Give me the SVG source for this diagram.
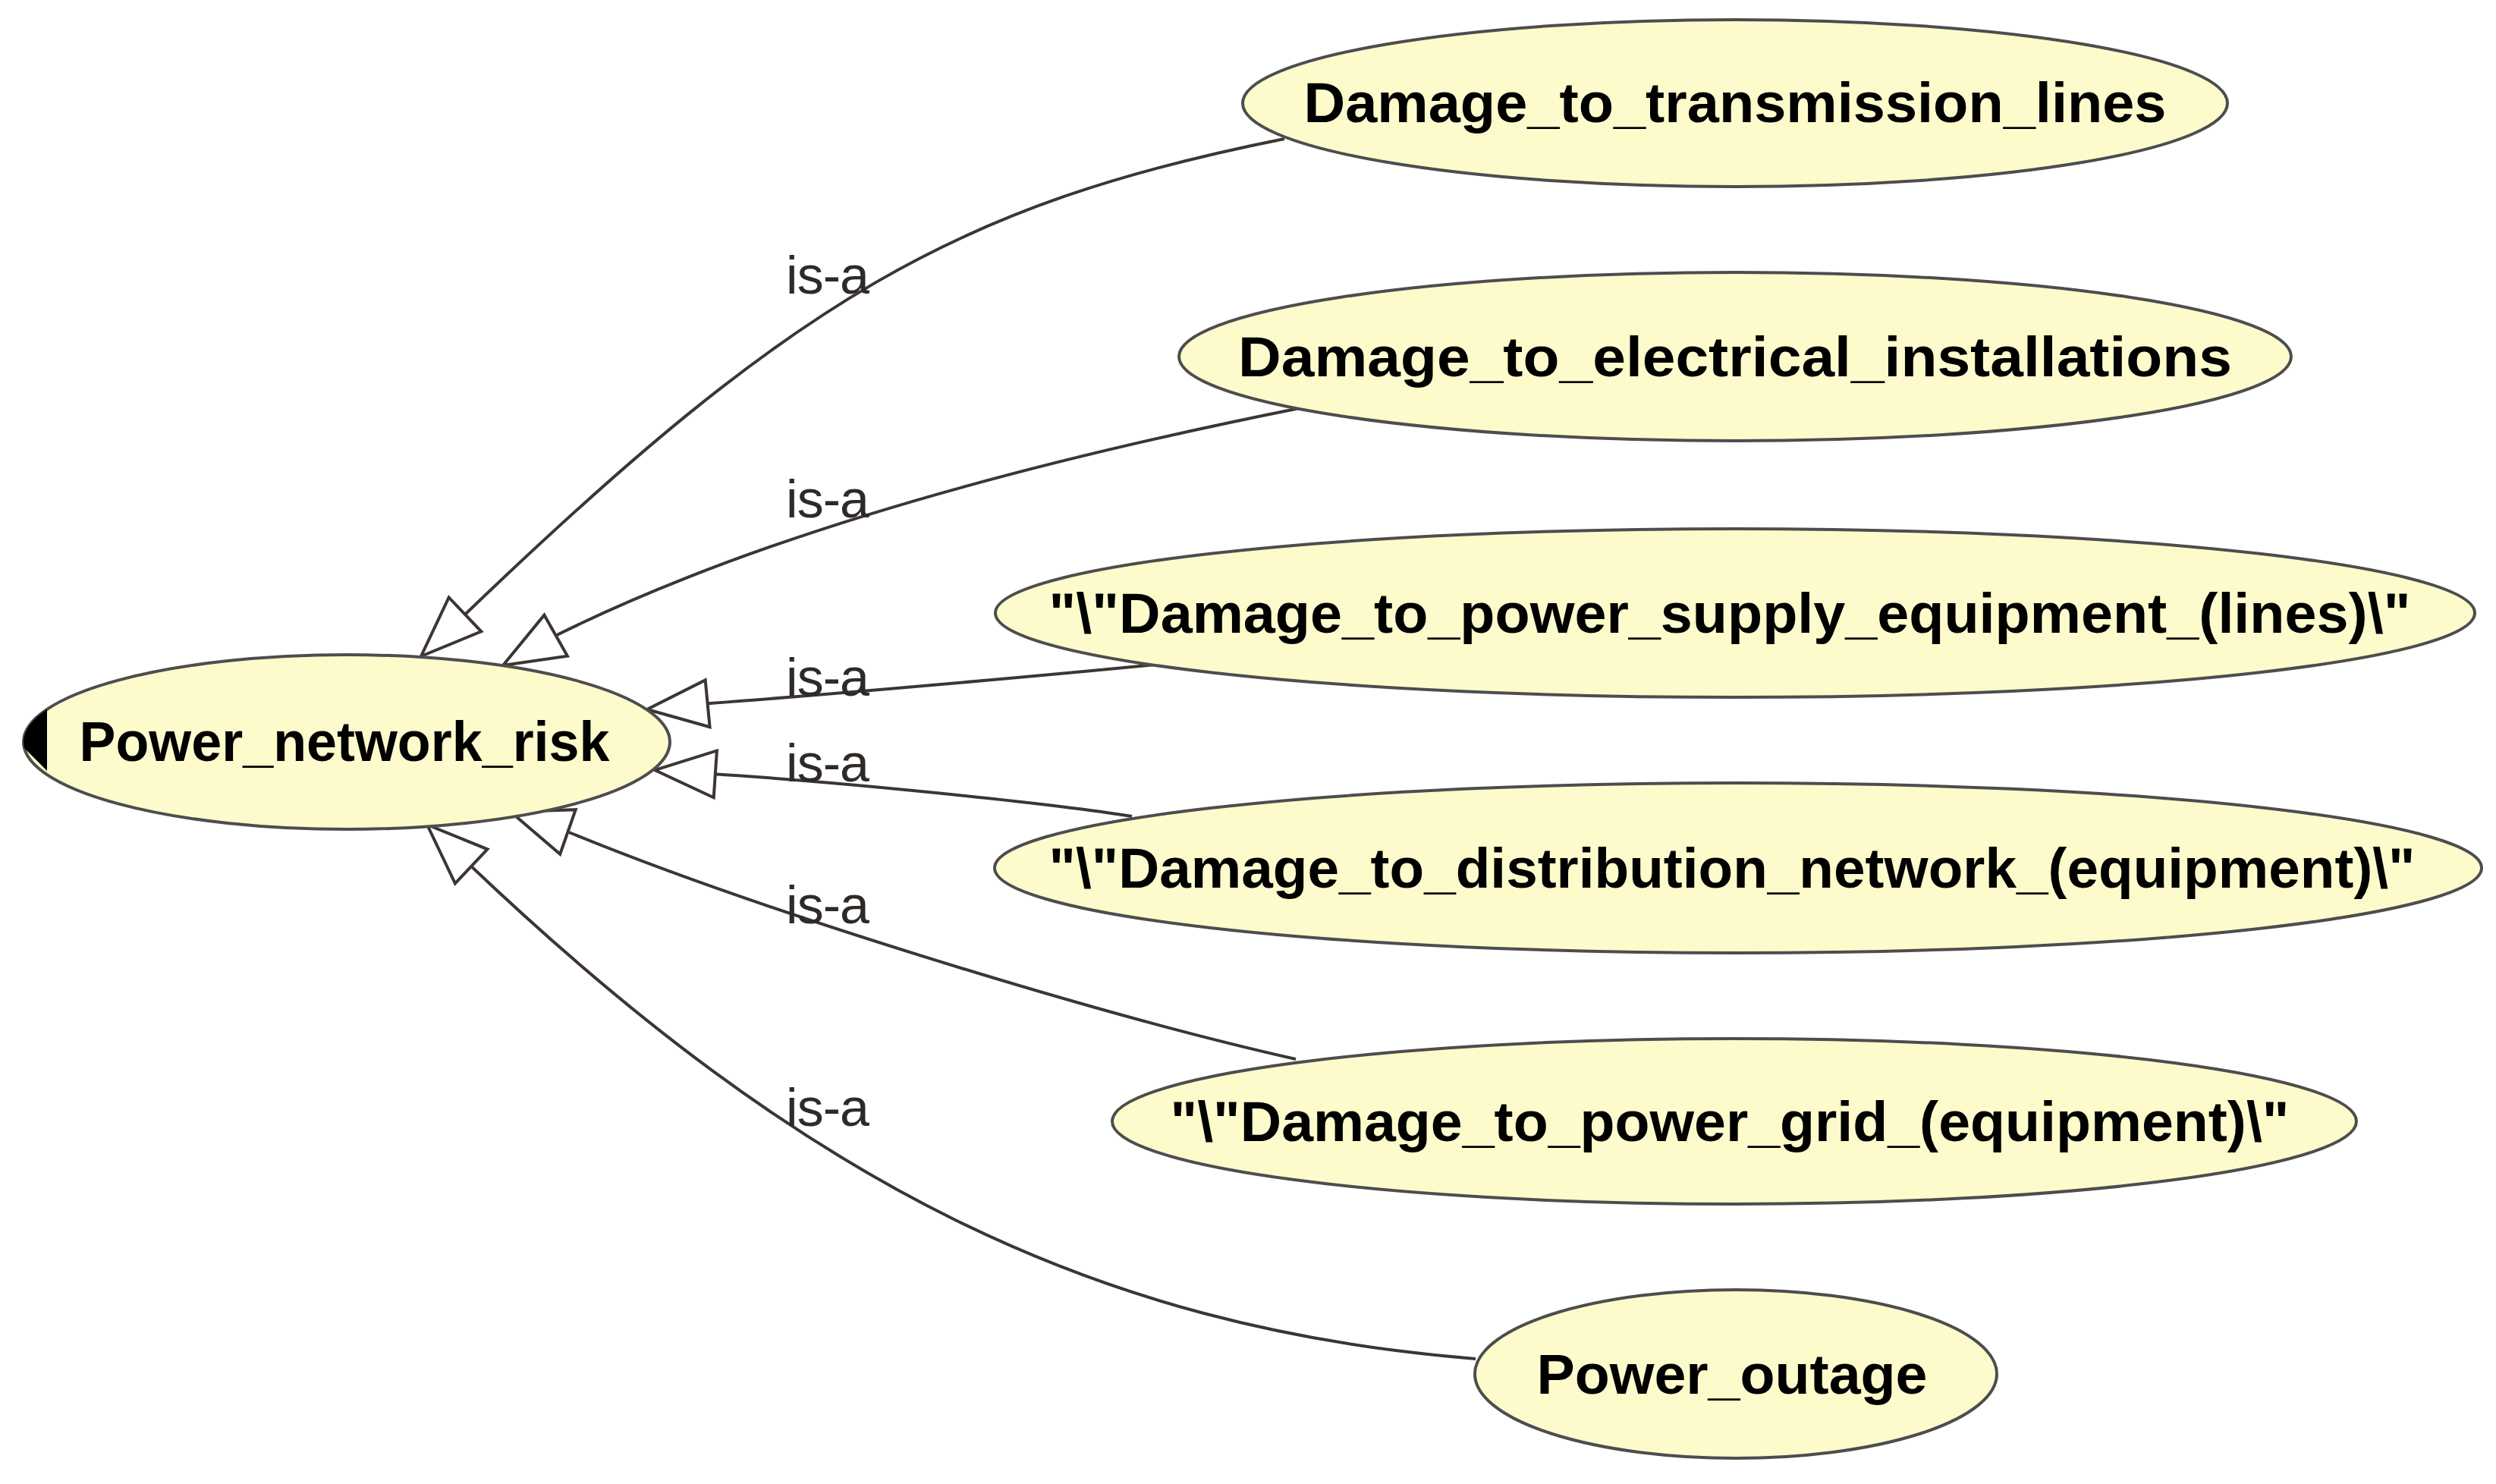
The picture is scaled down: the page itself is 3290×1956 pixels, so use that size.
<svg xmlns="http://www.w3.org/2000/svg" width="3290" height="1956" viewBox="0 0 3290 1956">
<style>
.node ellipse{fill:#fdfbcc;stroke:#4d4d4d;stroke-width:4}
.node text{font-family:"Liberation Sans",Arial,sans-serif;font-weight:bold;font-size:74px;fill:#000;text-anchor:middle}
.edge{fill:none;stroke:#3d3532;stroke-width:4;marker-end:url(#tri)}
.lbl{font-family:"Liberation Sans",Arial,sans-serif;font-size:70px;fill:#2e2a28}
</style>
<defs>
<marker id="tri" markerUnits="userSpaceOnUse" markerWidth="120" markerHeight="120" refX="0" refY="0" orient="auto" overflow="visible">
<path d="M0,0 L-80,-31 L-80,31 Z" fill="#fff" stroke="#3d3532" stroke-width="4" stroke-linejoin="miter"/>
</marker>
<clipPath id="rootclip"><ellipse cx="457" cy="978" rx="426" ry="115"/></clipPath>
</defs>
<rect width="3290" height="1956" fill="#fff"/>
<g id="connectors">
<path class="edge" d="M1693,183 C1262,269 1046,394 616,807 L555,865"/>
<path class="edge" d="M1718,537 C1291,622 963,723 732,838 L663,877"/>
<path class="edge" d="M1523,876 C1380,890 1100,915 936,927 L853,935"/>
<path class="edge" d="M1492,1076 C1380,1058 1100,1030 937,1020 L863,1015"/>
<path class="edge" d="M1708,1396 C1450,1338 1000,1200 750,1097 L673,1070"/>
<path class="edge" d="M1945,1791 C1440,1750 1060,1560 616,1137 L563,1087"/>
<text class="lbl" x="1036" y="387" textLength="110">is-a</text>
<text class="lbl" x="1036" y="682" textLength="110">is-a</text>
<text class="lbl" x="1036" y="917" textLength="110">is-a</text>
<text class="lbl" x="1036" y="1030" textLength="110">is-a</text>
<text class="lbl" x="1036" y="1217" textLength="110">is-a</text>
<text class="lbl" x="1036" y="1484" textLength="110">is-a</text>
</g>
<g id="Power_network_risk" class="node">
<ellipse cx="457" cy="978" rx="426" ry="115"/>
<polygon points="18,972 62,928 62,1016" fill="#000" clip-path="url(#rootclip)"/>
<text x="454" y="1003" textLength="699" lengthAdjust="spacingAndGlyphs">Power_network_risk</text>
</g>
<g id="Damage_to_transmission_lines" class="node">
<ellipse cx="2287" cy="136" rx="649" ry="110"/>
<text x="2287" y="161" textLength="1137" lengthAdjust="spacingAndGlyphs">Damage_to_transmission_lines</text>
</g>
<g id="Damage_to_electrical_installations" class="node">
<ellipse cx="2287" cy="470" rx="733" ry="111"/>
<text x="2287" y="496" textLength="1310" lengthAdjust="spacingAndGlyphs">Damage_to_electrical_installations</text>
</g>
<g id="Damage_to_power_supply_equipment_lines" class="node">
<ellipse cx="2287" cy="808" rx="975" ry="111"/>
<text x="2280" y="834" textLength="1795" lengthAdjust="spacingAndGlyphs">"\"Damage_to_power_supply_equipment_(lines)\"</text>
</g>
<g id="Damage_to_distribution_network_equipment" class="node">
<ellipse cx="2291" cy="1144" rx="980" ry="112"/>
<text x="2283" y="1170" textLength="1801" lengthAdjust="spacingAndGlyphs">"\"Damage_to_distribution_network_(equipment)\"</text>
</g>
<g id="Damage_to_power_grid_equipment" class="node">
<ellipse cx="2286" cy="1478" rx="820" ry="109"/>
<text x="2280" y="1504" textLength="1475" lengthAdjust="spacingAndGlyphs">"\"Damage_to_power_grid_(equipment)\"</text>
</g>
<g id="Power_outage" class="node">
<ellipse cx="2288" cy="1811" rx="344" ry="111"/>
<text x="2283" y="1837" textLength="515" lengthAdjust="spacingAndGlyphs">Power_outage</text>
</g>
</svg>
